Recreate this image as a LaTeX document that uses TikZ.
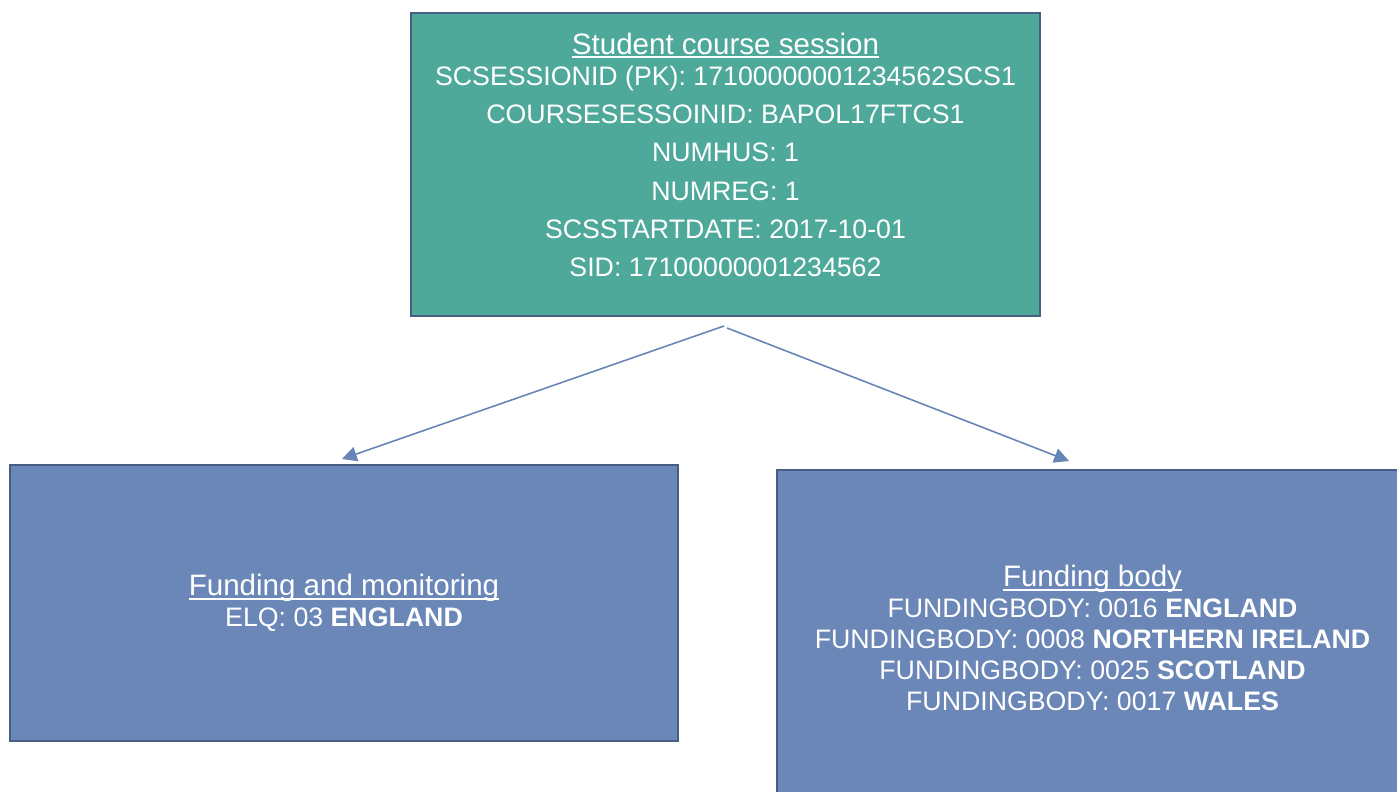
\documentclass[tikz,border=0pt]{standalone}
\usepackage{fontspec}
\setmainfont{Liberation Sans}
\usetikzlibrary{arrows.meta}

\definecolor{sessionfill}{RGB}{78,169,154}
\definecolor{fundfill}{RGB}{106,135,183}
\definecolor{boxline}{RGB}{72,93,130}
\definecolor{arrowline}{RGB}{104,133,184}

\newsavebox{\titlebox}
\newcommand{\boxtitle}[1]{%
  \sbox{\titlebox}{\fontsize{8.4}{8.8}\selectfont #1}%
  \rlap{\rule[-1.1pt]{\wd\titlebox}{0.5pt}}\usebox{\titlebox}}

\begin{document}
\begin{tikzpicture}
[x=0.01cm,y=-0.01cm,
  boxdecorate/.style={shape=rectangle,draw=boxline,line width=0.6pt,inner sep=0pt,
    text=white,align=center,font=\fontsize{7.6}{8.8}\selectfont},
  arrowdecorate/.style={-{Triangle[length=4.2pt,width=4.2pt]},draw=arrowline,
    fill=arrowline,line width=0.45pt}]
\clip (0,0) rectangle (1397,792);
%% boxes
\node (session) at (725.5,164.5) [boxdecorate,fill=sessionfill,
  minimum width=6.29cm,minimum height=3.03cm,text depth=5.5pt]
  {\boxtitle{Student course session}\\
   SCSESSIONID (PK): 17100000001234562SCS1\\[2.1pt]
   COURSESESSOINID: BAPOL17FTCS1\\[2.1pt]
   NUMHUS: 1\\[2.1pt]
   NUMREG: 1\\[2.1pt]
   SCSSTARTDATE: 2017-10-01\\[2.1pt]
   SID: 17100000001234562};
\node (monitoring) at (344,603) [boxdecorate,fill=fundfill,
  minimum width=6.68cm,minimum height=2.76cm]
  {\boxtitle{Funding and monitoring}\\
   ELQ: 03 \textbf{ENGLAND}};
\node (fundingbody) at (1092.5,638) [boxdecorate,fill=fundfill,
  minimum width=6.31cm,minimum height=3.36cm]
  {\boxtitle{Funding body}\\
   FUNDINGBODY: 0016 \textbf{ENGLAND}\\
   FUNDINGBODY: 0008 \textbf{NORTHERN IRELAND}\\
   FUNDINGBODY: 0025 \textbf{SCOTLAND}\\
   FUNDINGBODY: 0017 \textbf{WALES}};
%% connector ends
\coordinate (forkleft) at (724,326);
\coordinate (forkright) at (727,328);
\coordinate (monitoringtip) at (342,459);
\coordinate (fundingtip) at (1069,461);
%% arrows
\path
\foreach \startnode/\endnode in {forkleft/monitoringtip, forkright/fundingtip}
{
  (\startnode) edge[arrowdecorate] (\endnode)
};
\end{tikzpicture}
\end{document}
